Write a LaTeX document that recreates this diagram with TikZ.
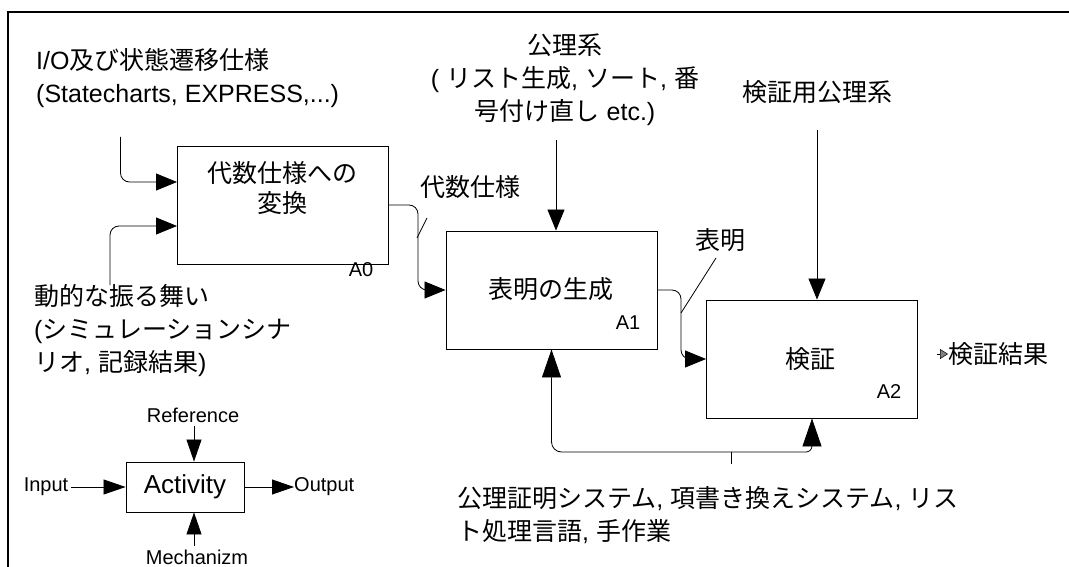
\documentclass[tikz,border=0pt]{standalone}
\usepackage{fontspec}
\setmainfont{Liberation Sans}
\newfontfamily\jp{Noto Sans CJK JP}
\usetikzlibrary{arrows.meta}
\newcommand{\J}[1]{{\jp #1}}
\begin{document}
\begin{tikzpicture}[x=1pt,y=-1pt,
  box/.style={draw, line width=0.9pt, minimum width=211pt, minimum height=118pt, inner sep=0pt},
  lbox/.style={draw, line width=0.9pt, minimum width=118pt, minimum height=50pt, inner sep=0pt},
  arr/.style={line width=0.8pt, -{Triangle[length=21pt,width=17pt]}},
  marr/.style={line width=0.8pt, -{Triangle[length=28pt,width=19pt]}},
  larr/.style={line width=0.8pt, -{Triangle[length=22pt,width=15pt]}},
  ln/.style={line width=0.8pt},
  txt/.style={font=\fontsize{25}{33}\selectfont, inner sep=0pt, align=left},
  ctxt/.style={font=\fontsize{25}{33}\selectfont, inner sep=0pt, align=center},
  tag/.style={font=\fontsize{20}{24}\selectfont, inner sep=0pt},
  ltxt/.style={font=\fontsize{20}{24}\selectfont, inner sep=0pt}]
\useasboundingbox (0,0) rectangle (1069,567);
% frame
\coordinate (f1) at (8,567); \coordinate (f2) at (8,12); \coordinate (f3) at (1069,12);
\draw[line width=2pt] (f1) -- (f2) -- (f3);

% boxes
\node[box] (A0) at (282.5,205) {};
\node[box] (A1) at (551.5,290) {};
\node[box] (A2) at (812,359) {};
\node[ctxt, font=\fontsize{25}{30}\selectfont] (t0) at (282,188) {\J{代数仕様への}\\\J{変換}};
\node[ctxt] (t1) at (551,289) {\J{表明の生成}};
\node[ctxt] (t2) at (810,359) {\J{検証}};
\node[tag] (a0) at (361,270) {A0};
\node[tag] (a1) at (628,323) {A1};
\node[tag] (a2) at (889,392) {A2};

% inputs of A0
\node[txt, anchor=west] (in1) at (36,78) {I/O\J{及び状態遷移仕様}\\(Statecharts, EXPRESS,...)};
\node[txt, anchor=west] (in2) at (34,331) {\J{動的な振る舞い}\\(\J{シミュレーションシナ}\\\J{リオ}, \J{記録結果})};
\coordinate (i1) at (120.5,137);
\coordinate (i2) at (110,285);
\draw[arr, rounded corners=9pt] (i1) |- (177,182);
\draw[arr, rounded corners=9pt] (i2) |- (177,226);

% A0 -> A1
\coordinate (k0) at (418,250);
\draw[arr, rounded corners=9pt] (A0.east) -| (k0) |- (A1.west);
\node[ctxt] (l0) at (470,187) {\J{代数仕様}};
\coordinate (l0a) at (427,218); \coordinate (l0b) at (417,238);
\draw[ln] (l0a) -- (l0b);

% control of A1
\node[ctxt] (c1) at (565,80) {\J{公理系}\\( \J{リスト生成}, \J{ソート}, \J{番}\\\J{号付け直し} etc.)};
\coordinate (r1) at (556,140);
\draw[arr] (r1) -- (r1 |- A1.north);

% A1 -> A2
\coordinate (k1) at (681,320);
\draw[arr, rounded corners=9pt] (A1.east) -| (k1) |- (A2.west);
\node[ctxt] (l1) at (720,240) {\J{表明}};
\coordinate (l1a) at (716,258); \coordinate (l1b) at (681,313);
\draw[ln] (l1a) -- (l1b);

% control of A2
\node[ctxt] (c2) at (817,92) {\J{検証用公理系}};
\coordinate (r2) at (817,130);
\draw[arr] (r2) -- (r2 |- A2.north);

% output of A2
\node[txt, anchor=west] (res) at (948,354) {\J{検証結果}};
\coordinate (o2) at (937,354);
\draw[line width=0.5pt, -{Triangle[length=8pt,width=10pt,fill=gray]}] (o2) -- (res.west);

% mechanisms
\coordinate (br) at (731,452);
\draw[marr, rounded corners=10pt] (br) -| (A1.south);
\draw[marr, rounded corners=6pt] (br) -| (A2.south);
\coordinate (bs) at (731,464);
\draw[ln] (br) -- (bs);
\node[txt, anchor=west] (mech) at (457,515) {\J{公理証明システム}, \J{項書き換えシステム}, \J{リス}\\\J{ト処理言語}, \J{手作業}};

% legend
\node[lbox] (act) at (185,487) {};
\node[font=\fontsize{26}{30}\selectfont, inner sep=0pt] (actt) at (185,487) {Activity};
\node[ltxt] (lref) at (193,415) {Reference};
\node[ltxt] (lin) at (46,487) {Input};
\node[ltxt, anchor=west] (lout) at (294,487) {Output};
\node[ltxt] (lmech) at (197,557) {Mechanizm};
\coordinate (lr) at (194,426);
\draw[larr] (lr) -- (lr |- act.north);
\coordinate (lm) at (194,546);
\draw[larr] (lm) -- (lm |- act.south);
\draw[larr] (lin.east) ++(3,0) coordinate (li) (li) -- (act.west);
\draw[larr] (act.east) -- (lout.west);
\end{tikzpicture}
\end{document}
